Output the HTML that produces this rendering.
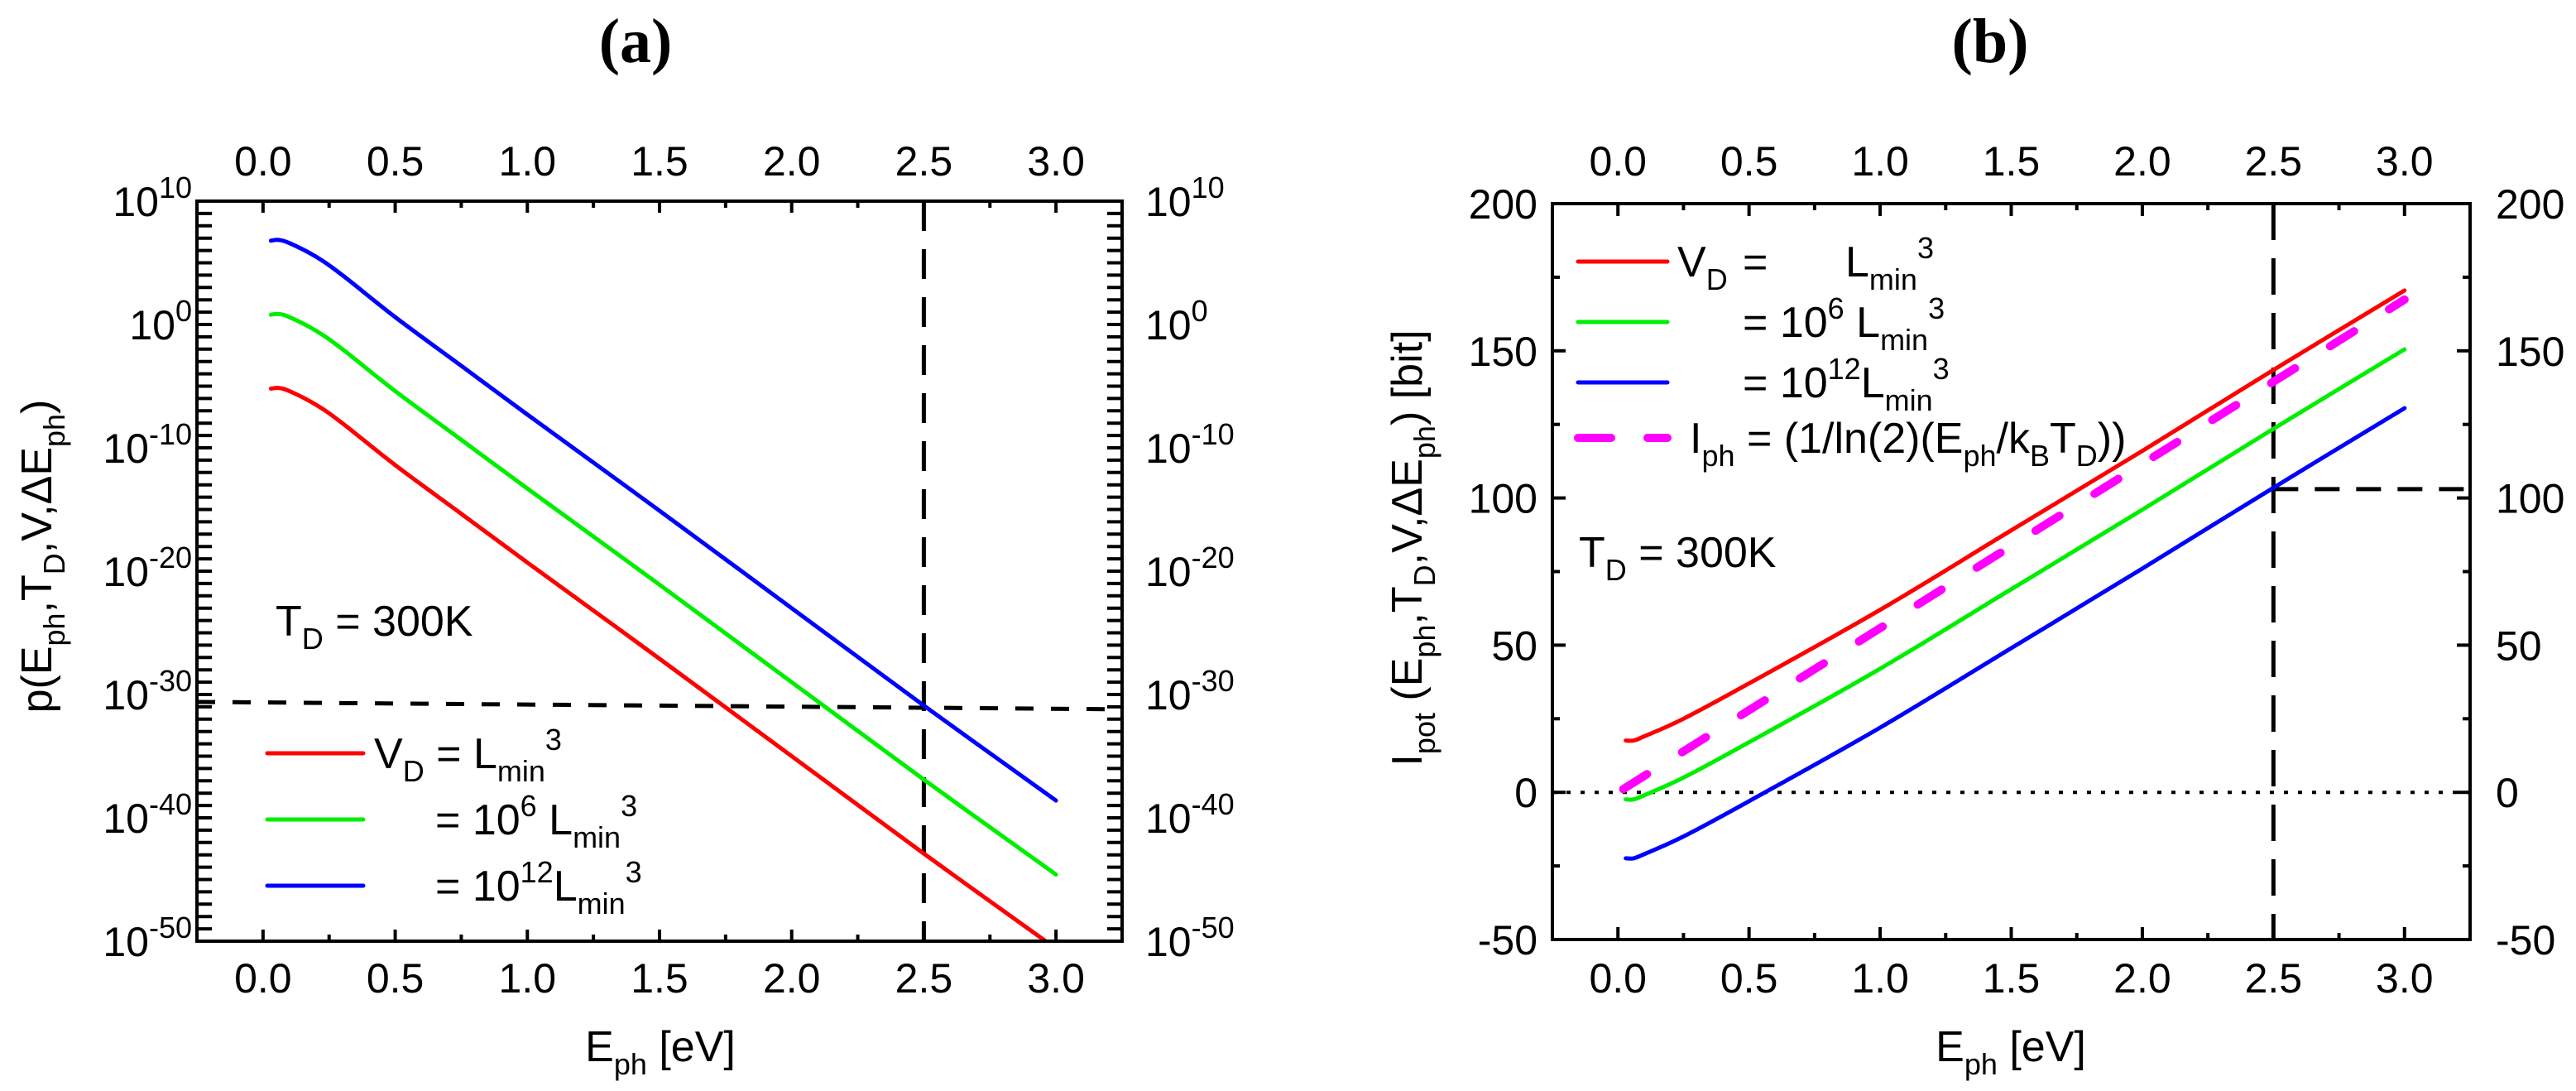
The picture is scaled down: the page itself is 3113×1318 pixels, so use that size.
<!DOCTYPE html>
<html><head><meta charset="utf-8"><style>
html,body{margin:0;padding:0;background:#fff}
svg{display:block}
text{font-family:"Liberation Sans",Arial,sans-serif;fill:#000}
</style></head><body>
<svg id="fig" width="3113" height="1318" viewBox="0 0 3113 1318" xmlns="http://www.w3.org/2000/svg">
<defs>
<clipPath id="clipA"><rect x="238" y="243" width="1118" height="894"/></clipPath>
<clipPath id="clipB"><rect x="1876" y="246" width="1109" height="889"/></clipPath>
</defs>
<g id="gA"></g>
<g id="gB"></g>
</svg>
<script>
// ---------- Panel (a) data ----------
const energyA = [0.03,0.06,0.1,0.2,0.3,0.5,0.75,1.0,1.5,2.0,2.5,3.0];
const log10pRed   = [-5.2,-5.15,-5.4,-6.5,-8.0,-11.4,-15.35,-19.3,-27.1,-35.0,-42.9,-50.6];
const log10pGreen = [0.8,0.85,0.6,-0.5,-2.0,-5.4,-9.35,-13.3,-21.1,-29.0,-36.9,-44.6];
const log10pBlue  = [6.8,6.85,6.6,5.5,4.0,0.6,-3.35,-7.3,-15.1,-23.0,-30.9,-38.6];
const xTickLabelsA = ["0.0","0.5","1.0","1.5","2.0","2.5","3.0"];
const yTickExpA = ["10","0","-10","-20","-30","-40","-50"];
const refLineA = [-30.6,-31.2];
// ---------- Panel (b) data ----------
const energyB = [0.03,0.06,0.1,0.25,0.5,1.0,1.5,2.0,2.5,3.0];
const ipotRed   = [17.6,17.6,19,25,37,62,89,116,143.5,170.5];
const ipotGreen = [-2.4,-2.4,-1,5,17,42,69,96,123.5,150.5];
const ipotBlue  = [-22.4,-22.4,-21,-15,-3,22,49,76,103.5,130.5];
const energyPh = [0.02,0.5,1.0,1.5,2.0,2.5,3.0];
const iph = [1.1,27.9,55.8,83.7,111.6,139.5,167.4];
const yTickLabelsB = ["-50","0","50","100","150","200"];
const refLineB = 103;

const NS="http://www.w3.org/2000/svg";
function mk(parent,tag,attrs){const e=document.createElementNS(NS,tag);for(const k in attrs)e.setAttribute(k,attrs[k]);parent.appendChild(e);return e;}
function smoothPath(pts){
  let d="M"+pts[0][0].toFixed(1)+","+pts[0][1].toFixed(1);
  for(let i=0;i<pts.length-1;i++){
    const p0=pts[i-1]||pts[i],p1=pts[i],p2=pts[i+1],p3=pts[i+2]||p2;
    const c1=[p1[0]+(p2[0]-p0[0])/6,p1[1]+(p2[1]-p0[1])/6];
    const c2=[p2[0]-(p3[0]-p1[0])/6,p2[1]-(p3[1]-p1[1])/6];
    d+=" C"+c1[0].toFixed(1)+","+c1[1].toFixed(1)+" "+c2[0].toFixed(1)+","+c2[1].toFixed(1)+" "+p2[0].toFixed(1)+","+p2[1].toFixed(1);
  }
  return d;
}
function addText(parent,x,y,parts,anchor,size){
  const t=mk(parent,"text",{x:x,y:y,"font-size":size||50,"text-anchor":anchor||"start"});
  let cur=0;
  parts.forEach(p=>{
    const ts=document.createElementNS(NS,"tspan");
    let dy=0,fs=size||50;
    if(p[1]==="sub"){dy=16-cur;cur=16;fs=36;}
    else if(p[1]==="sup"){dy=-22-cur;cur=-22;fs=36;}
    else {dy=-cur;cur=0;}
    if(dy)ts.setAttribute("dy",dy);
    ts.setAttribute("font-size",fs);
    ts.textContent=p[0];
    t.appendChild(ts);
  });
  return t;
}

// ================= Panel A =================
(function(){
  const g=document.getElementById("gA");
  const L=238,R=1356,T=243,B=1137;
  const xmin=-0.25,xmax=3.25,ymin=-50,ymax=10;
  const X=v=>L+(v-xmin)/(xmax-xmin)*(R-L);
  const Y=v=>B-(v-ymin)/(ymax-ymin)*(B-T);

  const title=mk(g,"text",{x:768,y:75,"font-size":76,"font-weight":"bold","text-anchor":"middle",style:"font-family:'Liberation Serif',serif"});
  title.textContent="(a)";
  
  

  for(let i=0;i<=12;i++){
    const v=i*0.25; const major=i%2===0; const len=major?14:8;
    mk(g,"line",{x1:X(v),x2:X(v),y1:B,y2:B-len,stroke:"#000","stroke-width":4});
    mk(g,"line",{x1:X(v),x2:X(v),y1:T,y2:T+len,stroke:"#000","stroke-width":4});
  }
  xTickLabelsA.forEach((s,i)=>{
    const v=parseFloat(s);
    const b=mk(g,"text",{x:X(v),y:1199,"font-size":50,"text-anchor":"middle"});b.textContent=s;
    
    
    const t=mk(g,"text",{x:X(v),y:212,"font-size":50,"text-anchor":"middle"});t.textContent=s;
    
    
  });
  for(let d=ymin;d<=ymax;d++){
    const len=18;
    mk(g,"line",{x1:L,x2:L+len,y1:Y(d),y2:Y(d),stroke:"#000","stroke-width":4});
    mk(g,"line",{x1:R,x2:R-len,y1:Y(d),y2:Y(d),stroke:"#000","stroke-width":4});
  }
  yTickExpA.forEach(e=>{
    const v=parseFloat(e);
    const l=addText(g,232,Y(v)+18,[["10","n"],[e,"sup"]],"end",50);
    
    
    const r=addText(g,1384,Y(v)+18,[["10","n"],[e,"sup"]],"start",50);
    
    
  });
  const dl=mk(g,"line",{x1:L,x2:R,y1:Y(refLineA[0]),y2:Y(refLineA[1]),stroke:"#000","stroke-width":5,"stroke-dasharray":"22,21"});
  
  
  const vl=mk(g,"line",{x1:X(2.5),x2:X(2.5),y1:T,y2:B,stroke:"#000","stroke-width":5,"stroke-dasharray":"36,22"});
  
  
  const cg=mk(g,"g",{"clip-path":"url(#clipA)"});
  [[log10pRed,"#ff0000","red"],[log10pGreen,"#00ee00","green"],[log10pBlue,"#0000ff","blue"]].forEach(s=>{
    const pts=energyA.map((e,i)=>[X(e),Y(s[0][i])]);
    const p=mk(cg,"path",{d:smoothPath(pts),fill:"none",stroke:s[1],"stroke-width":5,"stroke-linecap":"round"});
    
    
  });
  const fr=mk(g,"rect",{x:L,y:T,width:R-L,height:B-T,fill:"none",stroke:"#000","stroke-width":4});
  
  
  const td=addText(g,333,768,[["T","n"],["D","sub"],[" = 300K","n"]],"start",52);
  
  
  const lg=mk(g,"g",{});
  
  
  [["#ff0000",910],["#00ee00",990],["#0000ff",1070]].forEach(c=>{
    mk(lg,"line",{x1:323,x2:439,y1:c[1],y2:c[1],stroke:c[0],"stroke-width":5,"stroke-linecap":"round"});
  });
  addText(lg,452,928,[["V","n"],["D","sub"],[" = L","n"],["min","sub"],["3","sup"]],"start",52);
  addText(lg,526,1008,[["= 10","n"],["6","sup"],[" L","n"],["min","sub"],["3","sup"]],"start",52);
  addText(lg,526,1088,[["= 10","n"],["12","sup"],["L","n"],["min","sub"],["3","sup"]],"start",52);
  const xt=addText(g,798,1282,[["E","n"],["ph","sub"],[" [eV]","n"]],"middle",52);
  
  
  const yt=addText(g,0,0,[["p(E","n"],["ph","sub"],[",T","n"],["D","sub"],[",V,\u0394E","n"],["ph","sub"],[")","n"]],"middle",52);
  yt.setAttribute("transform","translate(62,672) rotate(-90)");
  
  
})();

// ================= Panel B =================
(function(){
  const g=document.getElementById("gB");
  const L=1876,R=2985,T=246,B=1135;
  const xmin=-0.25,xmax=3.25,ymin=-50,ymax=200;
  const X=v=>L+(v-xmin)/(xmax-xmin)*(R-L);
  const Y=v=>B-(v-ymin)/(ymax-ymin)*(B-T);

  const title=mk(g,"text",{x:2405,y:75,"font-size":76,"font-weight":"bold","text-anchor":"middle",style:"font-family:'Liberation Serif',serif"});
  title.textContent="(b)";
  
  

  for(let i=0;i<=12;i++){
    const v=i*0.25; const major=i%2===0; const len=major?15:8;
    mk(g,"line",{x1:X(v),x2:X(v),y1:B,y2:B-len,stroke:"#000","stroke-width":4});
    mk(g,"line",{x1:X(v),x2:X(v),y1:T,y2:T+len,stroke:"#000","stroke-width":4});
  }
  xTickLabelsA.forEach(s=>{
    const v=parseFloat(s);
    const b=mk(g,"text",{x:X(v),y:1199,"font-size":50,"text-anchor":"middle"});b.textContent=s;
    
    
    const t=mk(g,"text",{x:X(v),y:212,"font-size":50,"text-anchor":"middle"});t.textContent=s;
    
    
  });
  for(let v=ymin;v<=ymax;v+=25){
    const major=v%50===0; const len=major?16:9;
    mk(g,"line",{x1:L,x2:L+len,y1:Y(v),y2:Y(v),stroke:"#000","stroke-width":4});
    mk(g,"line",{x1:R,x2:R-len,y1:Y(v),y2:Y(v),stroke:"#000","stroke-width":4});
  }
  yTickLabelsB.forEach(s=>{
    const v=parseFloat(s);
    const l=mk(g,"text",{x:1858,y:Y(v)+18,"font-size":50,"text-anchor":"end"});l.textContent=s;
    
    
    const r=mk(g,"text",{x:3016,y:Y(v)+18,"font-size":50,"text-anchor":"start"});r.textContent=s;
    
    
  });
  const zl=mk(g,"line",{x1:L,x2:R,y1:Y(0),y2:Y(0),stroke:"#000","stroke-width":4,"stroke-dasharray":"5,12"});
  
  
  const vl=mk(g,"line",{x1:X(2.5),x2:X(2.5),y1:T,y2:B,stroke:"#000","stroke-width":5,"stroke-dasharray":"44,22"});
  
  
  const hl=mk(g,"line",{x1:X(2.5),x2:R,y1:Y(refLineB),y2:Y(refLineB),stroke:"#000","stroke-width":5,"stroke-dasharray":"30,20"});
  
  
  const cg=mk(g,"g",{"clip-path":"url(#clipB)"});
  [[ipotRed,"#ff0000","red"],[ipotGreen,"#00ee00","green"],[ipotBlue,"#0000ff","blue"]].forEach(s=>{
    const pts=energyB.map((e,i)=>[X(e),Y(s[0][i])]);
    const p=mk(cg,"path",{d:smoothPath(pts),fill:"none",stroke:s[1],"stroke-width":5,"stroke-linecap":"round"});
    
    
  });
  const mp=energyPh.map((e,i)=>[X(e),Y(iph[i])]);
  const mpath=mk(cg,"path",{d:smoothPath(mp),fill:"none",stroke:"#ff00ff","stroke-width":10,"stroke-linecap":"round","stroke-dasharray":"34,50"});
  
  
  const fr=mk(g,"rect",{x:L,y:T,width:R-L,height:B-T,fill:"none",stroke:"#000","stroke-width":4});
  
  
  const td=addText(g,1908,685,[["T","n"],["D","sub"],[" = 300K","n"]],"start",52);
  
  
  const lg=mk(g,"g",{});
  
  
  [["#ff0000",316],["#00ee00",389],["#0000ff",462]].forEach(c=>{
    mk(lg,"line",{x1:1907,x2:2015,y1:c[1],y2:c[1],stroke:c[0],"stroke-width":5,"stroke-linecap":"round"});
  });
  mk(lg,"line",{x1:1907,x2:2015,y1:529,y2:529,stroke:"#ff00ff","stroke-width":10,"stroke-linecap":"round","stroke-dasharray":"40,44"});
  addText(lg,2027,334,[["V","n"],["D","sub"]],"start",52);
  addText(lg,2106,334,[["=","n"]],"start",52);
  addText(lg,2230,334,[["L","n"],["min","sub"],["3","sup"]],"start",52);
  addText(lg,2106,407,[["= 10","n"],["6","sup"],[" L","n"],["min","sub"],["3","sup"]],"start",52);
  addText(lg,2106,480,[["= 10","n"],["12","sup"],["L","n"],["min","sub"],["3","sup"]],"start",52);
  addText(lg,2042,547,[["I","n"],["ph","sub"],[" = (1/ln(2)(E","n"],["ph","sub"],["/k","n"],["B","sub"],["T","n"],["D","sub"],["))","n"]],"start",52);
  const xt=addText(g,2430,1282,[["E","n"],["ph","sub"],[" [eV]","n"]],"middle",52);
  
  
  const yt=addText(g,0,0,[["I","n"],["pot","sub"],[" (E","n"],["ph","sub"],[",T","n"],["D","sub"],[",V,\u0394E","n"],["ph","sub"],[") [bit]","n"]],"middle",52);
  yt.setAttribute("transform","translate(1718,662) rotate(-90)");
  
  
})();
</script>
</body></html>
